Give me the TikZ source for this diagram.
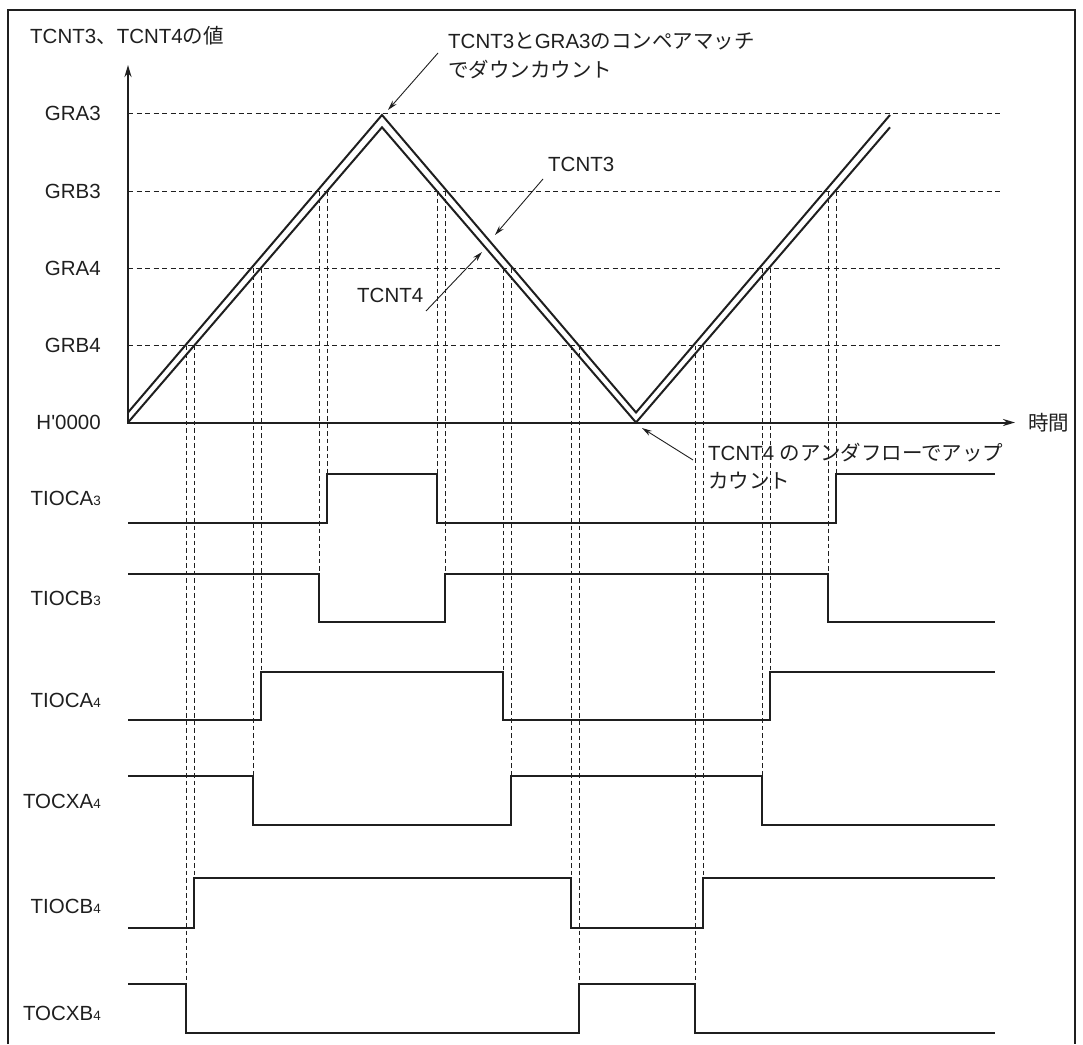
\documentclass[tikz,border=0pt]{standalone}
\usepackage{fontspec}
\setmainfont{Liberation Sans}
\newfontfamily\jpf{Noto Sans CJK JP}
\usetikzlibrary{arrows.meta}
\newcommand\smalld[1]{{\fontsize{13.5}{14}\selectfont #1}}
\begin{document}
\begin{tikzpicture}[x=1pt,y=-1pt,
  font=\fontsize{20.5}{24}\selectfont,
  ink/.style={draw=black!88},
  sig/.style={ink, line width=2pt, line join=miter},
  lvl/.style={ink, line width=1pt, dash pattern=on 5pt off 3.5pt},
  vdash/.style={ink, line width=1pt, dash pattern=on 4.5pt off 3pt},
  ann/.style={ink, line width=0.9pt, -{Stealth[length=10pt,width=5.5pt]}},
  lbl/.style={inner sep=0pt, anchor=base east, text=black!88},
  txt/.style={inner sep=0pt, anchor=base west, text=black!88}]
\useasboundingbox (0,0) rectangle (1083,1044);
% frame
\draw[ink, line width=2pt] (8,1044) -- (8,10) -- (1075,10) -- (1075,1044);
% level lines
\foreach \y in {113.5,191,268.3,345.7} \draw[lvl] (128,\y) -- (1003,\y);
% axes
\draw[sig, {Stealth[length=12pt,width=7pt]}-{Stealth[length=12pt,width=7pt]}] (128,65) -- (128,422.5) -- (1015,422.5);
% counters
\draw[sig] (128,412.5) -- (382,115) -- (636,412.5) -- (890,115);
\draw[sig] (128,422.5) -- (382,127.3) -- (636,422.5) -- (890,127.3);
% dashed verticals
\foreach \x/\a/\b in {186/345.7/984, 194/345.7/878, 253/268.3/776, 261/268.3/672,
  319/191/574, 327/191/474, 437/191/474, 445/191/574, 503/268.3/672, 511/268.3/776,
  571/345.7/878, 579/345.7/984, 695/345.7/984, 703/345.7/878, 762/268.3/776,
  770/268.3/672, 828/191/574, 836/191/474}
  \draw[vdash] (\x,\a) -- (\x,\b);
% signals
\draw[sig] (128,523) -- (327,523) -- (327,474) -- (437,474) -- (437,523) -- (836,523) -- (836,474) -- (995,474);
\draw[sig] (128,574) -- (319,574) -- (319,622) -- (445,622) -- (445,574) -- (828,574) -- (828,622) -- (995,622);
\draw[sig] (128,720) -- (261,720) -- (261,672) -- (503,672) -- (503,720) -- (770,720) -- (770,672) -- (995,672);
\draw[sig] (128,776) -- (253,776) -- (253,825) -- (511,825) -- (511,776) -- (762,776) -- (762,825) -- (995,825);
\draw[sig] (128,928) -- (194,928) -- (194,878) -- (571,878) -- (571,928) -- (703,928) -- (703,878) -- (995,878);
\draw[sig] (128,984) -- (186,984) -- (186,1033) -- (579,1033) -- (579,984) -- (695,984) -- (695,1033) -- (995,1033);
% axis labels
\node[txt] (ylab) at (30,43) {TCNT3{\jpf 、}TCNT4{\jpf の値}};
\node[txt] (tlab) at (1028,430) {\jpf 時間};
\node[lbl] (gra3) at (101,120.5) {GRA3};
\node[lbl] (grb3) at (101,198) {GRB3};
\node[lbl] (gra4) at (101,275.3) {GRA4};
\node[lbl] (grb4) at (101,352.7) {GRB4};
\node[lbl] (zero) at (101,429.5) {H\textquotesingle 0000};
\node[lbl] (s1) at (101,505) {TIOCA\smalld{3}};
\node[lbl] (s2) at (101,605) {TIOCB\smalld{3}};
\node[lbl] (s3) at (101,707) {TIOCA\smalld{4}};
\node[lbl] (s4) at (101,808) {TOCXA\smalld{4}};
\node[lbl] (s5) at (101,913) {TIOCB\smalld{4}};
\node[lbl] (s6) at (101,1020) {TOCXB\smalld{4}};
% annotations
\node[txt] (n1a) at (448,48) {TCNT3{\jpf と}GRA3{\jpf のコンペアマッチ}};
\node[txt] (n1b) at (448,77) {\jpf でダウンカウント};
\node[txt] (n2) at (548,171) {TCNT3};
\node[txt] (n3) at (357,302) {TCNT4};
\node[txt] (n4a) at (708,460) {TCNT4 {\jpf のアンダフローでアップ}};
\node[txt] (n4b) at (708,488) {\jpf カウント};
\coordinate (a1s) at (438,53);  \coordinate (a1e) at (388,110);
\coordinate (a2s) at (543,179); \coordinate (a2e) at (495,235);
\coordinate (a3s) at (426,311); \coordinate (a3e) at (482,252);
\coordinate (a4s) at (693,460); \coordinate (a4e) at (642,428);
\draw[ann] (a1s) -- (a1e);
\draw[ann] (a2s) -- (a2e);
\draw[ann] (a3s) -- (a3e);
\draw[ann] (a4s) -- (a4e);
\end{tikzpicture}
\end{document}
